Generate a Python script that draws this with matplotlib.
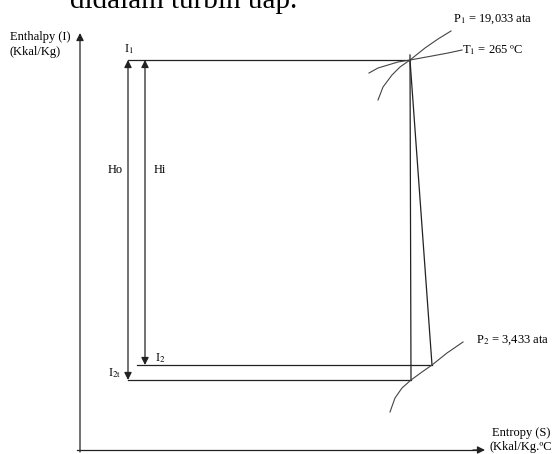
import matplotlib.pyplot as plt

# diagram coordinates: x = entropy (px), y = enthalpy (px from the bottom)
W, H = 557, 454

# state points (s, I)
p1 = (410, 394)
p2 = (432, 89)
p2t = (411, 74)

# isobars / isotherm through the states
p1_s = [378, 383, 392, 400, 410, 425, 438, 451]
p1_i = [354, 367, 379, 387, 394, 406, 415, 423]
t1_s = [369, 378, 388, 398, 410, 432, 448, 462]
t1_i = [381, 386, 389, 392, 394, 398, 401, 404]
p2_s = [390, 395, 402, 411, 422, 432, 447, 463]
p2_i = [42, 56, 66, 74, 82, 89, 101, 112]

# axes of the diagram
axis_origin = (80, 4)
axis_x_end = 485
axis_y_end = 421
x_ho, x_hi = 128, 145

plt.rcParams['font.family'] = ['Liberation Serif', 'DejaVu Serif']
plt.rcParams['mathtext.fontset'] = 'stix'

fig = plt.figure(figsize=(W / 100, H / 100), dpi=100)
ax = fig.add_axes([0, 0, 1, 1])
ax.set_xlim(0, W)
ax.set_ylim(0, H)
ax.axis('off')

lc = '#222222'
lw = 0.9
head = dict(arrowstyle='-|>', color=lc, lw=lw, mutation_scale=11, shrinkA=0, shrinkB=0)

# axes with arrow heads
ax.plot([77, axis_x_end - 8], [axis_origin[1], axis_origin[1]], color=lc, lw=lw)
ax.annotate('', xy=(axis_x_end, axis_origin[1]), xytext=(axis_x_end - 12, axis_origin[1]), arrowprops=head)
ax.annotate('', xy=(axis_origin[0], axis_y_end), xytext=(axis_origin[0], 2), arrowprops=head)

# horizontal enthalpy levels
ax.plot([x_ho, p1[0]], [p1[1], p1[1]], color=lc, lw=lw)
ax.plot([137, p2[0]], [p2[1], p2[1]], color=lc, lw=lw)
ax.plot([x_ho, p2t[0]], [p2t[1], p2t[1]], color=lc, lw=lw)

# expansion lines
ax.plot([p1[0], p2t[0]], [p1[1] + 5, p2t[1]], color=lc, lw=lw)
ax.plot([p1[0], p2[0]], [p1[1], p2[1]], color=lc, lw=lw)

# Ho and Hi arrows
ax.annotate('', xy=(x_ho, p1[1]), xytext=(x_ho, p2t[1]),
            arrowprops=dict(head, arrowstyle='<|-|>'))
ax.annotate('', xy=(x_hi, p1[1]), xytext=(x_hi, p2[1]),
            arrowprops=dict(head, arrowstyle='<|-|>'))

# curves
cc = '#444444'
ax.plot(p1_s, p1_i, color=cc, lw=0.8)
ax.plot(t1_s, t1_i, color=cc, lw=0.8)
ax.plot(p2_s, p2_i, color=cc, lw=0.8)

fs = 9
ax.text(70, H - 8, 'didalam turbin uap.', fontsize=21, va='baseline', ha='left')
ax.text(10, H - 37, 'Enthalpy (I)', fontsize=fs, va='center')
ax.text(10, H - 52, '(Kkal/Kg)', fontsize=fs, va='center')
ax.text(124, H - 49, r'I$_\mathrm{1}$', fontsize=fs, va='center')
ax.text(108, H - 170, 'Ho', fontsize=fs, va='center')
ax.text(154, H - 170, 'Hi', fontsize=fs, va='center')
ax.text(155, H - 358, r'I$_\mathrm{2}$', fontsize=fs, va='center')
ax.text(108, H - 373, r'I$_\mathrm{2t}$', fontsize=fs, va='center')
ax.text(453, H - 19, r'P$_\mathrm{1}$ = 19,033 ata', fontsize=fs, va='center')
ax.text(462, H - 50, r'T$_\mathrm{1}$ = 265 ºC', fontsize=fs, va='center')
ax.text(476, H - 340, r'P$_\mathrm{2}$ = 3,433 ata', fontsize=fs, va='center')
ax.text(492, H - 433, 'Entropy (S)', fontsize=fs, va='center')
ax.text(489, H - 447, '(Kkal/Kg.ºC', fontsize=fs, va='center')

fig.savefig('out.png', dpi=100)
